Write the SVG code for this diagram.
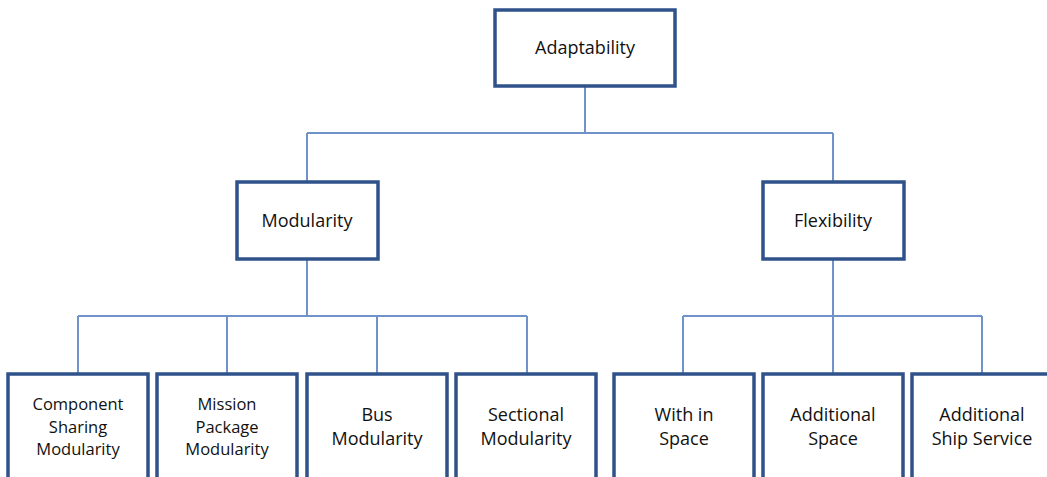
<svg xmlns="http://www.w3.org/2000/svg" width="1047" height="477" viewBox="0 0 1047 477">
<style>
.box{fill:#fff;stroke:#2F528A;stroke-width:3.5}
.lbl{font-family:"Open Sans","Noto Sans",sans-serif;font-size:18px;fill:#111;text-anchor:middle}
.sm{font-size:16.5px}
.con{fill:none;stroke:#6F93C8;stroke-width:2}
</style>
<rect width="1047" height="477" fill="#fff"/>
<g id="connectors">
<path class="con" d="M585 86V133M307 133H833M307 133V182M833 133V182"/>
<path class="con" d="M307 259V316M78 316H527M78 316V373M227 316V373M377 316V373M527 316V373"/>
<path class="con" d="M833 259V316M683 316H982M683 316V373M833 373V316M982 316V373"/>
</g>
<g id="adaptability"><rect class="box" x="495" y="10" width="180" height="76"/><text class="lbl" x="585" y="54">Adaptability</text></g>
<g id="modularity"><rect class="box" x="237" y="182" width="141" height="77"/><text class="lbl" x="307" y="227">Modularity</text></g>
<g id="flexibility"><rect class="box" x="763" y="182" width="141" height="77"/><text class="lbl" x="833" y="227">Flexibility</text></g>
<g id="component"><rect class="box" x="8" y="374" width="140" height="120"/><text class="lbl sm" x="78" y="410">Component</text><text class="lbl sm" x="78" y="432.5">Sharing</text><text class="lbl sm" x="78" y="455">Modularity</text></g>
<g id="mission"><rect class="box" x="157" y="374" width="140" height="120"/><text class="lbl sm" x="227" y="410">Mission</text><text class="lbl sm" x="227" y="432.5">Package</text><text class="lbl sm" x="227" y="455">Modularity</text></g>
<g id="bus"><rect class="box" x="307" y="374" width="140" height="120"/><text class="lbl" x="377" y="421">Bus</text><text class="lbl" x="377" y="445">Modularity</text></g>
<g id="sectional"><rect class="box" x="456" y="374" width="140" height="120"/><text class="lbl" x="526" y="421">Sectional</text><text class="lbl" x="526" y="445">Modularity</text></g>
<g id="within"><rect class="box" x="614" y="374" width="140" height="120"/><text class="lbl" x="684" y="421">With in</text><text class="lbl" x="684" y="445">Space</text></g>
<g id="addspace"><rect class="box" x="763" y="374" width="140" height="120"/><text class="lbl" x="833" y="421">Additional</text><text class="lbl" x="833" y="445">Space</text></g>
<g id="addship"><rect class="box" x="912" y="374" width="140" height="120"/><text class="lbl" x="982" y="421">Additional</text><text class="lbl" x="982" y="445">Ship Service</text></g>
</svg>
